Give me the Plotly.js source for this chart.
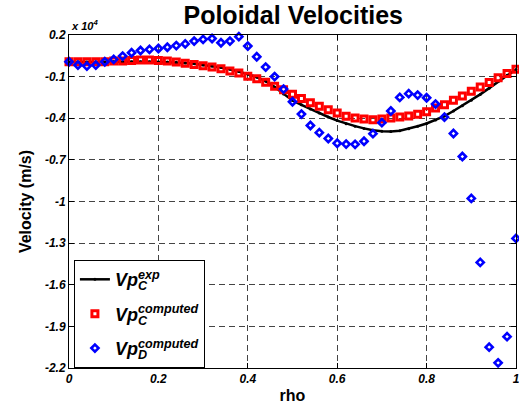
<!DOCTYPE html>
<html>
<head>
<meta charset="utf-8">
<script src="https://cdn.plot.ly/plotly-3.0.1.min.js"></script>
<style>
html,body{margin:0;padding:0;background:#fff;}
#chart{width:519px;height:413px;}
</style>
</head>
<body>
<div id="chart"></div>
<script>
// rho values (0 to 1, step 0.02)
const rho = [0,0.02,0.04,0.06,0.08,0.10,0.12,0.14,0.16,0.18,0.20,0.22,0.24,0.26,0.28,0.30,0.32,0.34,0.36,0.38,0.40,0.42,0.44,0.46,0.48,0.50,0.52,0.54,0.56,0.58,0.60,0.62,0.64,0.66,0.68,0.70,0.72,0.74,0.76,0.78,0.80,0.82,0.84,0.86,0.88,0.90,0.92,0.94,0.96,0.98,1.00];

// Velocities in units of 1e4 m/s
const vpExpC = [0.006,0.005,0.005,0.005,0.006,0.007,0.008,0.008,0.008,0.007,0.006,0.005,0.003,-0.001,-0.008,-0.016,-0.024,-0.034,-0.047,-0.063,-0.082,-0.104,-0.133,-0.175,-0.225,-0.272,-0.303,-0.333,-0.363,-0.391,-0.417,-0.439,-0.457,-0.473,-0.486,-0.493,-0.495,-0.49,-0.476,-0.458,-0.438,-0.413,-0.384,-0.348,-0.31,-0.27,-0.228,-0.183,-0.136,-0.09,-0.048];

const vpCompC = [0.007,0.007,0.007,0.007,0.007,0.012,0.012,0.016,0.019,0.019,0.016,0.012,0.005,-0.003,-0.012,-0.021,-0.03,-0.043,-0.06,-0.073,-0.097,-0.116,-0.14,-0.17,-0.195,-0.227,-0.258,-0.288,-0.313,-0.338,-0.362,-0.386,-0.399,-0.406,-0.41,-0.406,-0.399,-0.391,-0.383,-0.371,-0.353,-0.326,-0.302,-0.27,-0.24,-0.206,-0.175,-0.142,-0.108,-0.078,-0.046];

const vpCompD = [0.007,-0.017,-0.024,-0.017,0.007,0.024,0.048,0.072,0.088,0.096,0.103,0.112,0.124,0.136,0.156,0.168,0.175,0.144,0.156,0.188,0.12,0.043,-0.031,-0.1,-0.19,-0.281,-0.37,-0.452,-0.504,-0.546,-0.58,-0.586,-0.588,-0.566,-0.511,-0.432,-0.348,-0.25,-0.223,-0.233,-0.252,-0.298,-0.392,-0.51,-0.676,-0.978,-1.439,-2.05,-2.163,-1.974,-1.266];

const yTickVals = [-2.2,-1.9,-1.6,-1.3,-1,-0.7,-0.4,-0.1,0.2];
const yTickText = ['-2.2','-1.9','-1.6','-1.3','-1','-0.7','-0.4','-0.1','0.2'];
const xTickVals = [0,0.2,0.4,0.6,0.8,1];
const xTickText = ['0','0.2','0.4','0.6','0.8','1'];

const FONT = 'Arial, "Liberation Sans", Helvetica, sans-serif';

function stackName(sub, sup, w){
  return 'Vp<sub><span style="letter-spacing:-' + w + 'px">' + sub + '</span></sub><sup>' + sup + '</sup>';
}

const traces = [
  {
    x: rho, y: vpExpC, type: 'scatter', mode: 'lines+markers',
    name: stackName('C','exp',9), legendgroup: 'a',
    line: {color: '#000', width: 2.5},
    marker: {color: '#000', size: 3},
    cliponaxis: false
  },
  {
    x: rho, y: vpCompC, type: 'scatter', mode: 'markers',
    name: stackName('C','computed',9), legendgroup: 'b',
    marker: {symbol: 'square-open', size: 6, color: '#ff0000', line: {width: 3, color: '#ff0000'}},
    cliponaxis: false
  },
  {
    x: rho, y: vpCompD, type: 'scatter', mode: 'markers',
    name: stackName('D','computed',9), legendgroup: 'c',
    marker: {symbol: 'diamond-open', size: 5.5, color: '#0000ff', line: {width: 2.6, color: '#0000ff'}},
    cliponaxis: false
  }
];

const axisCommon = {
  showline: true, linecolor: '#000', linewidth: 1, mirror: 'ticks',
  ticks: 'inside', ticklen: 5, tickcolor: '#000', tickwidth: 1,
  showgrid: true, gridcolor: '#444', gridwidth: 1, griddash: '6px,4px',
  zeroline: false, ticklabeloverflow: 'allow',
  tickfont: {family: FONT, size: 12, color: '#000', weight: 'bold', style: 'italic'}
};

const layout = {
  width: 519, height: 413,
  margin: {l: 69, r: 3, t: 35, b: 45},
  paper_bgcolor: '#fff', plot_bgcolor: '#fff',
  showlegend: true,
  title: {
    text: 'Poloidal Velocities',
    font: {family: FONT, size: 25, color: '#000', weight: 'bold'},
    x: 0.565, xanchor: 'center', y: 0.964, yanchor: 'middle'
  },
  xaxis: Object.assign({}, axisCommon, {
    range: [0, 1], tickmode: 'array', tickvals: xTickVals, ticktext: xTickText,
    title: {text: 'rho', font: {family: FONT, size: 16, color: '#000', weight: 'bold'}, standoff: 4}
  }),
  yaxis: Object.assign({}, axisCommon, {
    range: [-2.2, 0.2], tickmode: 'array', tickvals: yTickVals, ticktext: yTickText,
    title: {text: 'Velocity (m/s)', font: {family: FONT, size: 16, color: '#000', weight: 'bold'}, standoff: 9}
  }),
  legend: {
    x: 0.011, y: 0.324, xanchor: 'left', yanchor: 'top',
    bgcolor: '#fff', bordercolor: '#000', borderwidth: 1,
    font: {family: FONT, size: 18, color: '#000', weight: 'bold', style: 'italic'},
    tracegroupgap: 8, itemwidth: 30
  },
  annotations: [
    {
      xref: 'paper', yref: 'paper', x: 0, y: 1, xanchor: 'left', yanchor: 'bottom',
      xshift: 0, yshift: 1, showarrow: false,
      text: 'x 10<sup>4</sup>',
      font: {family: FONT, size: 11, color: '#000', weight: 'bold', style: 'italic'}
    }
  ]
};

Plotly.newPlot('chart', traces, layout, {displayModeBar: false, staticPlot: true});
</script>
</body>
</html>
